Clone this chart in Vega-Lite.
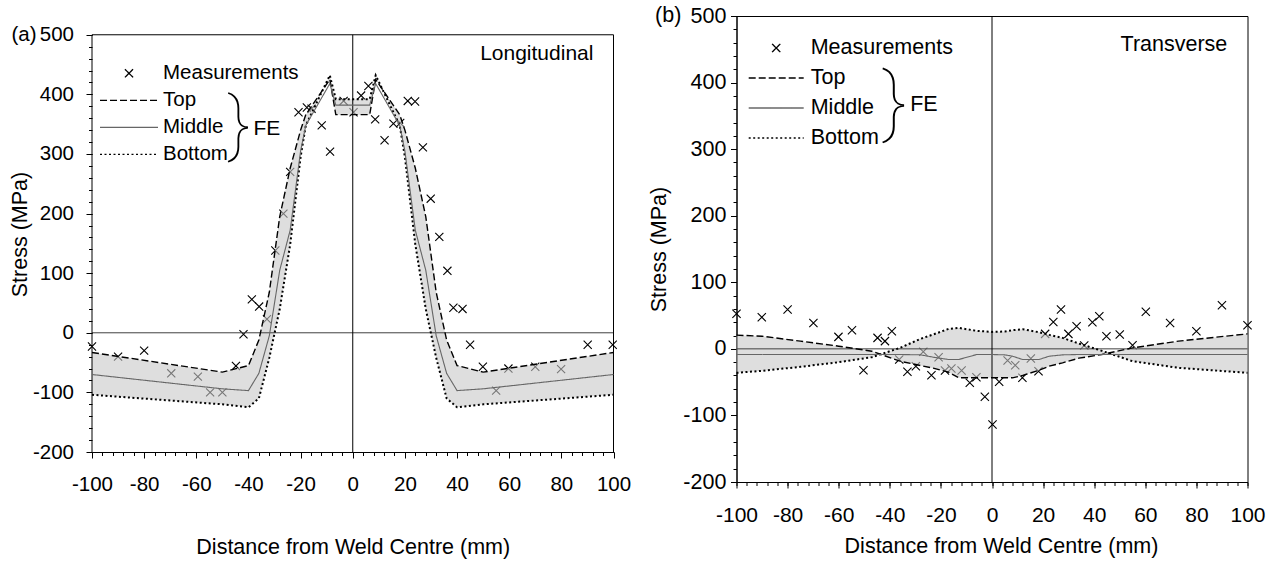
{
  "$schema": "https://vega.github.io/schema/vega-lite/v6.json",
  "padding": {"left": 9, "top": 4, "right": 5, "bottom": 5},
  "spacing": 16.5,
  "config": {
    "font": "Liberation Sans",
    "view": {"stroke": "#000000", "strokeWidth": 1},
    "axis": {"domainColor": "#000000", "tickColor": "#000000", "labelColor": "#000000", "titleColor": "#000000", "grid": false, "domainWidth": 1, "tickWidth": 1, "titleFontWeight": "normal", "labelFlush": false, "labelOverlap": false},
    "legend": {"labelColor": "#000000"},
    "text": {"color": "#000000"}
  },
  "datasets": {
    "measA": [
      {"x": -100, "y": -23}, {"x": -90, "y": -40}, {"x": -80, "y": -30}, {"x": -69.6, "y": -68}, {"x": -59.4, "y": -73.6},
      {"x": -54.7, "y": -100}, {"x": -50, "y": -100}, {"x": -44.8, "y": -55.6}, {"x": -41.9, "y": -2.5}, {"x": -38.7, "y": 56},
      {"x": -35.9, "y": 44}, {"x": -32.9, "y": 23}, {"x": -29.7, "y": 138}, {"x": -26.6, "y": 200}, {"x": -24, "y": 270},
      {"x": -20.8, "y": 370}, {"x": -17.6, "y": 378}, {"x": -15.8, "y": 376}, {"x": -11.9, "y": 348}, {"x": -8.7, "y": 304},
      {"x": -3.5, "y": 389}, {"x": 0.3, "y": 370}, {"x": 3.2, "y": 398}, {"x": 6, "y": 414}, {"x": 8.6, "y": 358},
      {"x": 12.2, "y": 323}, {"x": 15.6, "y": 351}, {"x": 18.2, "y": 352}, {"x": 21.1, "y": 389}, {"x": 23.9, "y": 388},
      {"x": 26.9, "y": 311}, {"x": 29.9, "y": 225}, {"x": 33.2, "y": 161}, {"x": 36.3, "y": 104}, {"x": 38.6, "y": 42},
      {"x": 42.1, "y": 40}, {"x": 45, "y": -20}, {"x": 49.9, "y": -57}, {"x": 55, "y": -97}, {"x": 59.7, "y": -60},
      {"x": 70, "y": -57}, {"x": 79.9, "y": -61}, {"x": 90.1, "y": -20}, {"x": 99.7, "y": -20}
    ],
    "feA": [
      {"x": -100, "top": -33, "mid": -70, "bot": -104},
      {"x": -50, "top": -66, "mid": -94, "bot": -120},
      {"x": -40, "top": -55, "mid": -97, "bot": -125},
      {"x": -36, "top": -12, "mid": -68, "bot": -110},
      {"x": -32, "top": 68, "mid": -5, "bot": -42},
      {"x": -28, "top": 195, "mid": 105, "bot": 40},
      {"x": -24, "top": 276, "mid": 172, "bot": 148},
      {"x": -20, "top": 340, "mid": 305, "bot": 295},
      {"x": -18, "top": 366, "mid": 348, "bot": 348},
      {"x": -8.8, "top": 425, "mid": 418, "bot": 432},
      {"x": -6.5, "top": 366, "mid": 382, "bot": 392},
      {"x": 6.5, "top": 366, "mid": 382, "bot": 392},
      {"x": 8.8, "top": 425, "mid": 418, "bot": 432},
      {"x": 18, "top": 366, "mid": 348, "bot": 348},
      {"x": 20, "top": 340, "mid": 305, "bot": 295},
      {"x": 24, "top": 276, "mid": 172, "bot": 148},
      {"x": 28, "top": 195, "mid": 105, "bot": 40},
      {"x": 32, "top": 68, "mid": -5, "bot": -42},
      {"x": 36, "top": -12, "mid": -68, "bot": -110},
      {"x": 40, "top": -55, "mid": -97, "bot": -125},
      {"x": 50, "top": -66, "mid": -94, "bot": -120},
      {"x": 100, "top": -33, "mid": -70, "bot": -104}
    ],
    "measB": [
      {"x": -100, "y": 52.6}, {"x": -90.1, "y": 47.6}, {"x": -80, "y": 59.1}, {"x": -69.9, "y": 39}, {"x": -60.1, "y": 18},
      {"x": -54.8, "y": 28}, {"x": -50.3, "y": -32}, {"x": -44.8, "y": 16.5}, {"x": -41.9, "y": 11.6}, {"x": -39.2, "y": 26.6},
      {"x": -36.3, "y": -16}, {"x": -33.1, "y": -34.5}, {"x": -29.8, "y": -26}, {"x": -26.9, "y": -4.5}, {"x": -23.7, "y": -39.5},
      {"x": -20.9, "y": -12.5}, {"x": -18.4, "y": -32.5}, {"x": -15.9, "y": -29.5}, {"x": -11.9, "y": -32.5}, {"x": -8.7, "y": -51},
      {"x": -6.1, "y": -42.5}, {"x": -2.8, "y": -72}, {"x": 0.2, "y": -113.5}, {"x": 2.8, "y": -49.5}, {"x": 6.1, "y": -17.5},
      {"x": 9.1, "y": -24.5}, {"x": 11.9, "y": -43.5}, {"x": 15.2, "y": -14.5}, {"x": 18.2, "y": -33.5}, {"x": 20.8, "y": 22.5},
      {"x": 24, "y": 40.5}, {"x": 27, "y": 59}, {"x": 29.9, "y": 22.5}, {"x": 33.1, "y": 34}, {"x": 36.1, "y": 5},
      {"x": 39.3, "y": 40}, {"x": 42, "y": 49}, {"x": 44.8, "y": 19}, {"x": 50, "y": 21.6}, {"x": 55, "y": 5.5},
      {"x": 60.2, "y": 55.6}, {"x": 69.7, "y": 39}, {"x": 80, "y": 26.6}, {"x": 90, "y": 65.6}, {"x": 100, "y": 35.6}
    ],
    "feB": [
      {"x": -100, "top": 20.6, "mid": -8.5, "bot": -36},
      {"x": -90, "top": 19, "mid": -8.5, "bot": -33},
      {"x": -75, "top": 11.6, "mid": -8.5, "bot": -27},
      {"x": -60, "top": 4, "mid": -8.5, "bot": -20},
      {"x": -47, "top": -3.5, "mid": -8.5, "bot": -12.5},
      {"x": -36, "top": -18.5, "mid": -8.5, "bot": 1.5},
      {"x": -28, "top": -25, "mid": -9, "bot": 15},
      {"x": -23, "top": -29, "mid": -12.5, "bot": 21.6},
      {"x": -17, "top": -35, "mid": -16, "bot": 30},
      {"x": -13, "top": -43.5, "mid": -16, "bot": 31.5},
      {"x": -6, "top": -43.5, "mid": -8.5, "bot": 27},
      {"x": 0, "top": -43.5, "mid": -8.5, "bot": 25.5},
      {"x": 5, "top": -43.5, "mid": -9, "bot": 26},
      {"x": 8, "top": -43.5, "mid": -11, "bot": 28},
      {"x": 12, "top": -40, "mid": -16, "bot": 29.5},
      {"x": 18.4, "top": -32, "mid": -16, "bot": 25},
      {"x": 22.4, "top": -26, "mid": -11, "bot": 21},
      {"x": 27.6, "top": -21, "mid": -9, "bot": 16.5},
      {"x": 34, "top": -14, "mid": -8.5, "bot": 8},
      {"x": 43, "top": -8.5, "mid": -8.5, "bot": -3},
      {"x": 55, "top": 1.5, "mid": -8.5, "bot": -18.5},
      {"x": 73, "top": 11.6, "mid": -8.5, "bot": -28.5},
      {"x": 100, "top": 22.5, "mid": -8.5, "bot": -36}
    ]
  },
  "resolve": {
    "scale": {"x": "independent", "y": "independent", "color": "independent", "shape": "independent", "strokeDash": "independent"},
    "legend": {"color": "independent", "shape": "independent", "strokeDash": "independent"}
  },
  "hconcat": [
    {
      "width": 521.5,
      "height": 436,
      "view": {"stroke": null},
      "resolve": {"axis": {"x": "independent", "y": "independent"}},
      "layer": [
        {
          "data": {"name": "measA"},
          "mark": {"type": "point", "filled": false, "strokeWidth": 1.1, "opacity": 1, "size": 3364},
          "encoding": {
            "x": {"field": "x", "type": "quantitative", "scale": {"domain": [-100, 100], "nice": false, "zero": false},
              "axis": {"orient": "bottom", "values": [-100, -80, -60, -40, -20, 0, 20, 40, 60, 80, 100], "labelExpr": "'' + datum.value", "labelFontSize": 20.5, "labelPadding": 16.5, "tickSize": 6, "title": "Distance from Weld Centre (mm)", "titleFontSize": 21.5, "titlePadding": 41}},
            "y": {"field": "y", "type": "quantitative", "scale": {"domain": [-200, 531.5], "nice": false, "zero": false},
              "axis": {"orient": "left", "domain": false, "values": [-200, -100, 0, 100, 200, 300, 400, 500], "labelExpr": "'' + datum.value", "labelFontSize": 20.5, "labelPadding": 12.5, "tickSize": 6, "title": "Stress (MPa)", "titleFontSize": 21.5, "titlePadding": 1}},
            "shape": {"datum": "Measurements", "type": "nominal",
              "scale": {"domain": ["Measurements", "Top", "Middle", "Bottom"], "range": ["M-0.14,-0.14L0.14,0.14M-0.14,0.14L0.14,-0.14", "stroke", "stroke", "stroke"]},
              "legend": {"orient": "none", "legendX": 7, "legendY": 43.8, "title": null, "labelFontSize": 20.5, "symbolSize": 3364, "clipHeight": 27, "rowPadding": 0, "padding": 0, "symbolStrokeWidth": 1.3, "labelOffset": 4, "symbolFillColor": "transparent"}},
            "color": {"datum": "Measurements", "type": "nominal",
              "scale": {"domain": ["Measurements", "Top", "Middle", "Bottom"], "range": ["#000000", "#000000", "#666666", "#000000"]},
              "legend": {"orient": "none", "legendX": 7, "legendY": 43.8, "title": null, "labelFontSize": 20.5, "symbolSize": 3364, "clipHeight": 27, "rowPadding": 0, "padding": 0, "symbolStrokeWidth": 1.3, "labelOffset": 4, "symbolFillColor": "transparent"}}
          }
        },
        {
          "data": {"name": "feA"},
          "mark": {"type": "area", "color": "#c8c8c8", "opacity": 0.6},
          "encoding": {
            "x": {"field": "x", "type": "quantitative", "scale": {"domain": [-100, 100], "nice": false, "zero": false}, "axis": null},
            "y": {"field": "top", "type": "quantitative", "scale": {"domain": [-200, 531.5], "nice": false, "zero": false}, "axis": null},
            "y2": {"field": "bot"}
          }
        },
        {
          "data": {"values": [{}]},
          "mark": {"type": "rule", "color": "#404040", "strokeWidth": 1},
          "encoding": {
            "y": {"datum": 0, "type": "quantitative", "scale": {"domain": [-200, 531.5], "nice": false, "zero": false},
              "axis": {"orient": "left", "values": [-200, -180, -160, -140, -120, -100, -80, -60, -40, -20, 0, 20, 40, 60, 80, 100, 120, 140, 160, 180, 200, 220, 240, 260, 280, 300, 320, 340, 360, 380, 400, 420, 440, 460, 480, 500], "labels": false, "domain": false, "tickSize": 3.5, "title": null}}
          }
        },
        {
          "data": {"values": [{}]},
          "mark": {"type": "rule", "color": "#000000", "strokeWidth": 1},
          "encoding": {
            "x": {"datum": 0, "type": "quantitative", "scale": {"domain": [-100, 100], "nice": false, "zero": false},
              "axis": {"orient": "bottom", "values": [-100, -96, -92, -88, -84, -80, -76, -72, -68, -64, -60, -56, -52, -48, -44, -40, -36, -32, -28, -24, -20, -16, -12, -8, -4, 0, 4, 8, 12, 16, 20, 24, 28, 32, 36, 40, 44, 48, 52, 56, 60, 64, 68, 72, 76, 80, 84, 88, 92, 96, 100], "labels": false, "domain": false, "tickSize": 3.5, "title": null}},
            "y": {"datum": -200, "type": "quantitative", "scale": {"domain": [-200, 531.5], "nice": false, "zero": false}, "axis": null},
            "y2": {"datum": 500}
          }
        },
        {
          "data": {"values": [{}]},
          "mark": {"type": "rule", "color": "#000000", "strokeWidth": 1},
          "encoding": {
            "x": {"datum": -100, "type": "quantitative", "scale": {"domain": [-100, 100], "nice": false, "zero": false}, "axis": null},
            "y": {"datum": -200, "type": "quantitative", "scale": {"domain": [-200, 531.5], "nice": false, "zero": false}, "axis": null},
            "y2": {"datum": 500}
          }
        },
        {
          "data": {"values": [{}]},
          "mark": {"type": "rule", "color": "#000000", "strokeWidth": 1},
          "encoding": {
            "x": {"datum": 100, "type": "quantitative", "scale": {"domain": [-100, 100], "nice": false, "zero": false}, "axis": null},
            "y": {"datum": -200, "type": "quantitative", "scale": {"domain": [-200, 531.5], "nice": false, "zero": false}, "axis": null},
            "y2": {"datum": 500}
          }
        },
        {
          "data": {"values": [{}]},
          "mark": {"type": "rule", "color": "#000000", "strokeWidth": 1},
          "encoding": {
            "x": {"datum": -100, "type": "quantitative", "scale": {"domain": [-100, 100], "nice": false, "zero": false}, "axis": null},
            "x2": {"datum": 100},
            "y": {"datum": 500, "type": "quantitative", "scale": {"domain": [-200, 531.5], "nice": false, "zero": false}, "axis": null}
          }
        },
        {
          "data": {"name": "feA"},
          "mark": {"type": "line", "strokeWidth": 1.4},
          "encoding": {
            "x": {"field": "x", "type": "quantitative", "scale": {"domain": [-100, 100], "nice": false, "zero": false}, "axis": null},
            "y": {"field": "top", "type": "quantitative", "scale": {"domain": [-200, 531.5], "nice": false, "zero": false}, "axis": null},
            "strokeDash": {"datum": "Top", "type": "nominal",
              "scale": {"domain": ["Measurements", "Top", "Middle", "Bottom"], "range": [[1, 0], [7, 3], [1, 0], [2, 2.5]]},
              "legend": {"orient": "none", "legendX": 7, "legendY": 43.8, "title": null, "labelFontSize": 20.5, "symbolSize": 3364, "clipHeight": 27, "rowPadding": 0, "padding": 0, "symbolStrokeWidth": 1.3, "labelOffset": 4, "symbolFillColor": "transparent"}},
            "color": {"datum": "Top", "type": "nominal"}
          }
        },
        {
          "data": {"name": "feA"},
          "mark": {"type": "line", "strokeWidth": 2},
          "encoding": {
            "x": {"field": "x", "type": "quantitative", "scale": {"domain": [-100, 100], "nice": false, "zero": false}, "axis": null},
            "y": {"field": "bot", "type": "quantitative", "scale": {"domain": [-200, 531.5], "nice": false, "zero": false}, "axis": null},
            "strokeDash": {"datum": "Bottom", "type": "nominal"},
            "color": {"datum": "Bottom", "type": "nominal"}
          }
        },
        {
          "data": {"name": "feA"},
          "mark": {"type": "line", "strokeWidth": 1.1},
          "encoding": {
            "x": {"field": "x", "type": "quantitative", "scale": {"domain": [-100, 100], "nice": false, "zero": false}, "axis": null},
            "y": {"field": "mid", "type": "quantitative", "scale": {"domain": [-200, 531.5], "nice": false, "zero": false}, "axis": null},
            "strokeDash": {"datum": "Middle", "type": "nominal"},
            "color": {"datum": "Middle", "type": "nominal"}
          }
        },
        {
          "data": {"values": [{}]},
          "mark": {"type": "text", "text": "(a)", "align": "right", "baseline": "middle", "fontSize": 20.5},
          "encoding": {
            "x": {"datum": -121.3, "type": "quantitative", "scale": {"domain": [-100, 100], "nice": false, "zero": false}, "axis": null},
            "y": {"datum": 500, "type": "quantitative", "scale": {"domain": [-200, 531.5], "nice": false, "zero": false}, "axis": null}
          }
        },
        {
          "data": {"values": [{}]},
          "mark": {"type": "text", "text": "Longitudinal", "align": "right", "baseline": "middle", "fontSize": 21},
          "encoding": {
            "x": {"datum": 92.3, "type": "quantitative", "scale": {"domain": [-100, 100], "nice": false, "zero": false}, "axis": null},
            "y": {"datum": 467, "type": "quantitative", "scale": {"domain": [-200, 531.5], "nice": false, "zero": false}, "axis": null}
          }
        },
        {
          "data": {"values": [{}]},
          "mark": {"type": "text", "text": "}", "align": "center", "baseline": "middle", "fontSize": 70, "font": "Roboto", "fontWeight": 100},
          "encoding": {
            "x": {"datum": -43.6, "type": "quantitative", "scale": {"domain": [-100, 100], "nice": false, "zero": false}, "axis": null},
            "y": {"datum": 346.8, "type": "quantitative", "scale": {"domain": [-200, 531.5], "nice": false, "zero": false}, "axis": null}
          }
        },
        {
          "data": {"values": [{}]},
          "mark": {"type": "text", "text": "FE", "align": "left", "baseline": "middle", "fontSize": 21},
          "encoding": {
            "x": {"datum": -38.1, "type": "quantitative", "scale": {"domain": [-100, 100], "nice": false, "zero": false}, "axis": null},
            "y": {"datum": 341.7, "type": "quantitative", "scale": {"domain": [-200, 531.5], "nice": false, "zero": false}, "axis": null}
          }
        }
      ]
    },
    {
      "width": 511,
      "height": 466,
      "resolve": {"axis": {"x": "independent", "y": "independent"}},
      "layer": [
        {
          "data": {"name": "measB"},
          "mark": {"type": "point", "filled": false, "strokeWidth": 1.1, "opacity": 1, "size": 3025},
          "encoding": {
            "x": {"field": "x", "type": "quantitative", "scale": {"domain": [-100, 100], "nice": false, "zero": false},
              "axis": {"orient": "bottom", "values": [-100, -80, -60, -40, -20, 0, 20, 40, 60, 80, 100], "labelExpr": "'' + datum.value", "labelFontSize": 21, "labelPadding": 16.5, "tickSize": 6, "title": "Distance from Weld Centre (mm)", "titleFontSize": 21.5, "titlePadding": 10, "titleX": 264.5}},
            "y": {"field": "y", "type": "quantitative", "scale": {"domain": [-200, 500], "nice": false, "zero": false},
              "axis": {"orient": "left", "values": [-200, -100, 0, 100, 200, 300, 400, 500], "labelExpr": "'' + datum.value", "labelFontSize": 21.5, "labelPadding": 4.6, "tickSize": 6, "title": "Stress (MPa)", "titleFontSize": 21.5, "titlePadding": 12.5}},
            "shape": {"datum": "Measurements", "type": "nominal",
              "scale": {"domain": ["Measurements", "Top", "Middle", "Bottom"], "range": ["M-0.15,-0.15L0.15,0.15M-0.15,0.15L0.15,-0.15", "stroke", "stroke", "stroke"]},
              "legend": {"orient": "none", "legendX": 11.2, "legendY": 17.25, "title": null, "labelFontSize": 21.5, "symbolSize": 3025, "clipHeight": 29.5, "rowPadding": 0, "padding": 0, "symbolStrokeWidth": 1.3, "labelOffset": 6, "symbolFillColor": "transparent"}},
            "color": {"datum": "Measurements", "type": "nominal",
              "scale": {"domain": ["Measurements", "Top", "Middle", "Bottom"], "range": ["#000000", "#000000", "#666666", "#000000"]},
              "legend": {"orient": "none", "legendX": 11.2, "legendY": 17.25, "title": null, "labelFontSize": 21.5, "symbolSize": 3025, "clipHeight": 29.5, "rowPadding": 0, "padding": 0, "symbolStrokeWidth": 1.3, "labelOffset": 6, "symbolFillColor": "transparent"}}
          }
        },
        {
          "data": {"name": "feB"},
          "mark": {"type": "area", "color": "#c8c8c8", "opacity": 0.6},
          "encoding": {
            "x": {"field": "x", "type": "quantitative", "scale": {"domain": [-100, 100], "nice": false, "zero": false}, "axis": null},
            "y": {"field": "top", "type": "quantitative", "scale": {"domain": [-200, 500], "nice": false, "zero": false}, "axis": null},
            "y2": {"field": "bot"}
          }
        },
        {
          "data": {"values": [{}]},
          "mark": {"type": "rule", "color": "#404040", "strokeWidth": 1},
          "encoding": {
            "y": {"datum": 0, "type": "quantitative", "scale": {"domain": [-200, 500], "nice": false, "zero": false},
              "axis": {"orient": "left", "values": [-200, -180, -160, -140, -120, -100, -80, -60, -40, -20, 0, 20, 40, 60, 80, 100, 120, 140, 160, 180, 200, 220, 240, 260, 280, 300, 320, 340, 360, 380, 400, 420, 440, 460, 480, 500], "labels": false, "domain": false, "tickSize": 3.5, "title": null}}
          }
        },
        {
          "data": {"values": [{}]},
          "mark": {"type": "rule", "color": "#000000", "strokeWidth": 1},
          "encoding": {
            "x": {"datum": 0, "type": "quantitative", "scale": {"domain": [-100, 100], "nice": false, "zero": false},
              "axis": {"orient": "bottom", "values": [-100, -96, -92, -88, -84, -80, -76, -72, -68, -64, -60, -56, -52, -48, -44, -40, -36, -32, -28, -24, -20, -16, -12, -8, -4, 0, 4, 8, 12, 16, 20, 24, 28, 32, 36, 40, 44, 48, 52, 56, 60, 64, 68, 72, 76, 80, 84, 88, 92, 96, 100], "labels": false, "domain": false, "tickSize": 3.5, "title": null}}
          }
        },
        {
          "data": {"name": "feB"},
          "mark": {"type": "line", "strokeWidth": 1.4},
          "encoding": {
            "x": {"field": "x", "type": "quantitative", "scale": {"domain": [-100, 100], "nice": false, "zero": false}, "axis": null},
            "y": {"field": "top", "type": "quantitative", "scale": {"domain": [-200, 500], "nice": false, "zero": false}, "axis": null},
            "strokeDash": {"datum": "Top", "type": "nominal",
              "scale": {"domain": ["Measurements", "Top", "Middle", "Bottom"], "range": [[1, 0], [7, 3], [1, 0], [2, 2.5]]},
              "legend": {"orient": "none", "legendX": 11.2, "legendY": 17.25, "title": null, "labelFontSize": 21.5, "symbolSize": 3025, "clipHeight": 29.5, "rowPadding": 0, "padding": 0, "symbolStrokeWidth": 1.3, "labelOffset": 6, "symbolFillColor": "transparent"}},
            "color": {"datum": "Top", "type": "nominal"}
          }
        },
        {
          "data": {"name": "feB"},
          "mark": {"type": "line", "strokeWidth": 2},
          "encoding": {
            "x": {"field": "x", "type": "quantitative", "scale": {"domain": [-100, 100], "nice": false, "zero": false}, "axis": null},
            "y": {"field": "bot", "type": "quantitative", "scale": {"domain": [-200, 500], "nice": false, "zero": false}, "axis": null},
            "strokeDash": {"datum": "Bottom", "type": "nominal"},
            "color": {"datum": "Bottom", "type": "nominal"}
          }
        },
        {
          "data": {"name": "feB"},
          "mark": {"type": "line", "strokeWidth": 1.1},
          "encoding": {
            "x": {"field": "x", "type": "quantitative", "scale": {"domain": [-100, 100], "nice": false, "zero": false}, "axis": null},
            "y": {"field": "mid", "type": "quantitative", "scale": {"domain": [-200, 500], "nice": false, "zero": false}, "axis": null},
            "strokeDash": {"datum": "Middle", "type": "nominal"},
            "color": {"datum": "Middle", "type": "nominal"}
          }
        },
        {
          "data": {"values": [{}]},
          "mark": {"type": "text", "text": "(b)", "align": "right", "baseline": "middle", "fontSize": 21.5},
          "encoding": {
            "x": {"datum": -121.6, "type": "quantitative", "scale": {"domain": [-100, 100], "nice": false, "zero": false}, "axis": null},
            "y": {"datum": 500, "type": "quantitative", "scale": {"domain": [-200, 500], "nice": false, "zero": false}, "axis": null}
          }
        },
        {
          "data": {"values": [{}]},
          "mark": {"type": "text", "text": "Transverse", "align": "right", "baseline": "middle", "fontSize": 21.5},
          "encoding": {
            "x": {"datum": 92.1, "type": "quantitative", "scale": {"domain": [-100, 100], "nice": false, "zero": false}, "axis": null},
            "y": {"datum": 457, "type": "quantitative", "scale": {"domain": [-200, 500], "nice": false, "zero": false}, "axis": null}
          }
        },
        {
          "data": {"values": [{}]},
          "mark": {"type": "text", "text": "}", "align": "center", "baseline": "middle", "fontSize": 76, "font": "Roboto", "fontWeight": 100},
          "encoding": {
            "x": {"datum": -38.2, "type": "quantitative", "scale": {"domain": [-100, 100], "nice": false, "zero": false}, "axis": null},
            "y": {"datum": 368.2, "type": "quantitative", "scale": {"domain": [-200, 500], "nice": false, "zero": false}, "axis": null}
          }
        },
        {
          "data": {"values": [{}]},
          "mark": {"type": "text", "text": "FE", "align": "left", "baseline": "middle", "fontSize": 21.5},
          "encoding": {
            "x": {"datum": -32, "type": "quantitative", "scale": {"domain": [-100, 100], "nice": false, "zero": false}, "axis": null},
            "y": {"datum": 367, "type": "quantitative", "scale": {"domain": [-200, 500], "nice": false, "zero": false}, "axis": null}
          }
        }
      ]
    }
  ]
}
